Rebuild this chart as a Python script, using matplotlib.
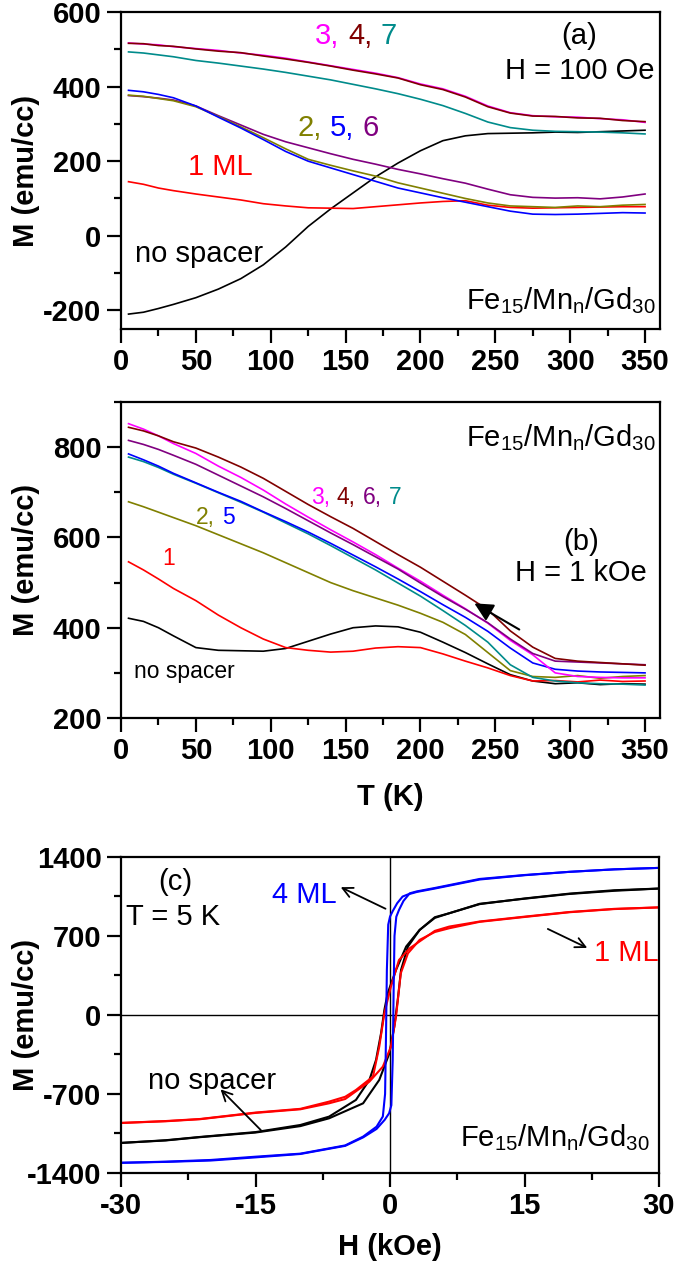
import matplotlib
matplotlib.use('Agg')
import matplotlib.pyplot as plt
from matplotlib.ticker import MultipleLocator
from matplotlib.offsetbox import TextArea, HPacker, AnnotationBbox

plt.rcParams['font.family'] = ['Liberation Sans', 'DejaVu Sans']
plt.rcParams['mathtext.fontset'] = 'custom'
plt.rcParams['mathtext.rm'] = 'Liberation Sans'
plt.rcParams['mathtext.it'] = 'Liberation Sans:italic'
plt.rcParams['axes.unicode_minus'] = False

# ---------------- data ----------------
T = [5, 15, 25, 35, 50, 65, 80, 95, 110, 125, 140, 155, 170, 185, 200,
     215, 230, 245, 260, 275, 290, 305, 320, 335, 350]

# panel (a): H = 100 Oe
a_nospacer = [-210, -205, -195, -184, -166, -143, -115, -78, -30, 25, 72, 115, 158, 195, 228,
              255, 268, 274, 275, 276, 278, 277, 279, 281, 283]
a_1 = [145, 138, 128, 121, 112, 104, 96, 86, 80, 75, 74, 73, 78, 83, 88,
       92, 94, 82, 76, 74, 75, 76, 77, 78, 78]
a_2 = [377, 374, 368, 362, 346, 320, 292, 263, 233, 205, 189, 174, 160, 142, 128,
       114, 100, 88, 80, 78, 76, 80, 78, 82, 84]
a_5 = [390, 386, 379, 370, 348, 318, 289, 258, 226, 200, 182, 164, 146, 128, 115,
       102, 90, 78, 66, 58, 57, 58, 60, 62, 61]
a_6 = [376, 373, 369, 364, 348, 322, 297, 272, 252, 236, 220, 205, 192, 178, 166,
       153, 141, 125, 110, 103, 101, 102, 99, 104, 112]
a_3 = [517, 514, 512, 507, 502, 497, 490, 484, 476, 466, 456, 446, 436, 424, 407,
       394, 374, 348, 330, 322, 319, 318, 314, 311, 304]
a_4 = [516, 515, 510, 508, 501, 495, 491, 482, 474, 465, 455, 444, 434, 423, 405,
       392, 372, 346, 329, 321, 320, 316, 315, 309, 306]
a_7 = [493, 490, 485, 480, 470, 463, 455, 447, 438, 428, 418, 406, 394, 381, 366,
       349, 328, 305, 290, 283, 280, 279, 278, 276, 273]

# panel (b): H = 1 kOe
b_nospacer = [421, 414, 400, 382, 356, 350, 349, 348, 354, 370, 386, 400, 404, 402, 390,
              368, 345, 320, 296, 282, 276, 278, 274, 276, 275]
b_1 = [546, 528, 508, 487, 460, 428, 400, 375, 356, 350, 346, 348, 355, 358, 356,
       342, 326, 311, 294, 282, 283, 280, 284, 281, 282]
b_2 = [679, 668, 656, 644, 626, 606, 586, 566, 544, 522, 500, 482, 466, 450, 432,
       412, 385, 345, 305, 292, 290, 294, 288, 292, 294]
b_5 = [785, 772, 758, 742, 721, 700, 680, 657, 635, 612, 587, 561, 535, 508, 480,
       451, 423, 392, 355, 322, 308, 304, 302, 301, 300]
b_6 = [815, 806, 795, 782, 762, 738, 714, 690, 664, 637, 610, 584, 557, 530, 499,
       469, 441, 411, 375, 343, 326, 324, 322, 320, 318]
b_3 = [852, 840, 825, 808, 786, 758, 733, 705, 674, 645, 617, 590, 562, 532, 503,
       472, 442, 410, 372, 340, 300, 292, 290, 289, 289]
b_4 = [844, 836, 825, 812, 798, 778, 756, 731, 702, 673, 646, 620, 591, 562, 534,
       503, 472, 440, 393, 357, 332, 326, 323, 320, 317]
b_7 = [778, 768, 755, 740, 720, 699, 678, 656, 632, 608, 582, 555, 528, 499, 470,
       438, 405, 368, 318, 290, 282, 278, 276, 275, 273]

# panel (c): hysteresis loops at T = 5 K (descending and ascending branches)
H_4ml_down = [30, 25, 20, 15, 10, 5, 3, 2, 1.4, 0.8, 0.3, 0, -0.2, -0.35, -0.45, -0.55,
              -0.8, -1.5, -3, -5, -10, -15, -20, -25, -30]
M_4ml_down = [1303, 1290, 1268, 1238, 1200, 1120, 1090, 1068, 1049, 990, 920, 871, 800, 400,
              -200, -700, -900, -990, -1078, -1156, -1229, -1256, -1285, -1300, -1310]
H_4ml_up = [-30, -25, -20, -15, -10, -5, -3, -1.5, -0.6, -0.1, 0.15, 0.3, 0.4, 0.5, 0.7,
            1.0, 1.5, 2.2, 3, 5, 10, 15, 20, 25, 30]
M_4ml_up = [-1310, -1302, -1290, -1262, -1232, -1160, -1085, -1010, -930, -871, -800, -400,
            200, 700, 870, 930, 1010, 1078, 1095, 1125, 1205, 1240, 1268, 1290, 1303]

H_ns_down = [30, 25, 20, 15, 10, 6.6, 5, 3.3, 1.8, 0.67, -0.26, -0.63, -1.0, -1.56, -2.3,
             -3.8, -6.8, -10, -15, -21.2, -25, -30]
M_ns_down = [1120, 1105, 1075, 1032, 982, 901, 866, 753, 606, 399, 192, 44, -162, -399, -576,
             -753, -901, -975, -1038, -1081, -1110, -1134]
H_ns_up = [-30, -25, -21.2, -15, -10, -6.8, -3.0, -1.2, -0.07, 0.48, 0.86, 1.23, 2.0, 3.3,
           5, 6.6, 10, 15, 20, 25, 30]
M_ns_up = [-1134, -1112, -1083, -1042, -985, -916, -783, -576, -340, -103, 133, 399, 606, 753,
           860, 901, 985, 1030, 1072, 1100, 1120]

H_1ml_down = [30, 25, 20, 15, 10, 6.6, 5, 2.2, 1.0, 0.1, -0.63, -1.2, -1.9, -3.8, -5, -6.8,
              -10, -15, -21.2, -25, -30]
M_1ml_down = [953, 940, 912, 871, 828, 783, 745, 591, 487, 251, 15, -281, -546, -665, -725,
              -768, -832, -865, -922, -940, -957]
H_1ml_up = [-30, -25, -21.2, -15, -10, -6.8, -5, -2.3, -0.8, 0.1, 0.67, 1.2, 2.0, 3.3, 5,
            6.6, 10, 15, 20, 25, 30]
M_1ml_up = [-957, -942, -924, -868, -836, -783, -745, -591, -458, -281, -15, 369, 546, 665,
            735, 768, 825, 868, 910, 938, 953]

colors = {
    'nospacer': 'black',
    '1': '#FF0000',
    '2': '#808000',
    '3': '#FF00FF',
    '4': '#800000',
    '5': '#0000FF',
    '6': '#800080',
    '7': '#008B8B',
}

FS = 21
stack = r'Fe$_{15}$/Mn$_{\mathrm{n}}$/Gd$_{30}$'


def style_axes(ax):
    for sp in ax.spines.values():
        sp.set_linewidth(1.6)
    ax.tick_params(which='major', direction='out', length=10, width=1.6,
                   labelsize=FS, pad=4, top=False, right=False)
    ax.tick_params(which='minor', direction='out', length=5, width=1.6,
                   top=False, right=False)
    for lab in ax.get_xticklabels() + ax.get_yticklabels():
        lab.set_fontweight('bold')


def colored_label(ax, x, y, parts, fs, sep):
    # a row of differently coloured pieces, centred on (x, y) in data coords
    boxes = [TextArea(s, textprops=dict(color=colors[k], fontsize=fs)) for s, k in parts]
    row = HPacker(children=boxes, align='baseline', pad=0, sep=sep)
    ab = AnnotationBbox(row, (x, y), xycoords='data', frameon=False,
                        box_alignment=(0.5, 0.5), pad=0)
    ax.add_artist(ab)


fig = plt.figure(figsize=(6.75, 12.63), dpi=100)
ax_a = fig.add_axes([0.1793, 0.7395, 0.7985, 0.2510])
ax_b = fig.add_axes([0.1793, 0.4315, 0.7985, 0.2502])
ax_c = fig.add_axes([0.1793, 0.0713, 0.7970, 0.2502])

# ---------------- panel (a) ----------------
lw = 1.2
for key, vals in [('nospacer', a_nospacer), ('1', a_1), ('6', a_6), ('2', a_2), ('5', a_5),
                  ('7', a_7), ('3', a_3), ('4', a_4)]:
    ax_a.plot(T, vals, color=colors[key], lw=lw)
ax_a.set_xlim(0, 360)
ax_a.set_ylim(-250, 600)
ax_a.xaxis.set_major_locator(MultipleLocator(50))
ax_a.xaxis.set_minor_locator(MultipleLocator(25))
ax_a.yaxis.set_major_locator(MultipleLocator(200))
ax_a.yaxis.set_minor_locator(MultipleLocator(100))
style_axes(ax_a)
ax_a.set_ylabel('M (emu/cc)', fontsize=FS, fontweight='bold')
ax_a.yaxis.set_label_coords(-0.15, 0.5)

colored_label(ax_a, 157, 535, [('3,', '3'), ('4,', '4'), ('7', '7')], FS, 6)
colored_label(ax_a, 145, 288, [('2,', '2'), ('5,', '5'), ('6', '6')], FS, 6)
ax_a.text(306, 535, '(a)', fontsize=FS, ha='center', va='center')
ax_a.text(356, 441, 'H = 100 Oe', fontsize=FS, ha='right', va='center')
ax_a.text(66, 185, '1 ML', color=colors['1'], fontsize=FS, ha='center', va='center')
ax_a.text(52, -48, 'no spacer', fontsize=FS, ha='center', va='center')
ax_a.text(357, -175, stack, fontsize=FS, ha='right', va='center')

# ---------------- panel (b) ----------------
for key, vals in [('nospacer', b_nospacer), ('1', b_1), ('2', b_2), ('7', b_7), ('5', b_5),
                  ('3', b_3), ('6', b_6), ('4', b_4)]:
    ax_b.plot(T, vals, color=colors[key], lw=lw)
ax_b.set_xlim(0, 360)
ax_b.set_ylim(200, 900)
ax_b.xaxis.set_major_locator(MultipleLocator(50))
ax_b.xaxis.set_minor_locator(MultipleLocator(25))
ax_b.yaxis.set_major_locator(MultipleLocator(200))
ax_b.yaxis.set_minor_locator(MultipleLocator(100))
style_axes(ax_b)
ax_b.set_ylabel('M (emu/cc)', fontsize=FS, fontweight='bold')
ax_b.yaxis.set_label_coords(-0.15, 0.5)
ax_b.set_xlabel('T (K)', fontsize=FS, fontweight='bold')
ax_b.xaxis.set_label_coords(0.5, -0.205)

fs_b = 16.5
colored_label(ax_b, 157, 688, [('3,', '3'), ('4,', '4'), ('6,', '6'), ('7', '7')], fs_b, 5)
colored_label(ax_b, 63, 644, [('2,', '2'), ('5', '5')], fs_b, 5)
ax_b.text(32, 554, '1', color=colors['1'], fontsize=fs_b, ha='center', va='center')
ax_b.text(42, 304, 'no spacer', fontsize=fs_b, ha='center', va='center')
ax_b.text(307, 589, '(b)', fontsize=FS, ha='center', va='center')
ax_b.text(307, 521, 'H = 1 kOe', fontsize=FS, ha='center', va='center')
ax_b.text(357, 822, stack, fontsize=FS, ha='right', va='center')
ax_b.annotate('', xy=(236, 454), xytext=(266, 396),
              arrowprops=dict(arrowstyle='-|>', color='black', lw=1.5,
                              mutation_scale=28, shrinkA=0, shrinkB=0))

# ---------------- panel (c) ----------------
lw_c = 1.5
ax_c.axhline(0, color='black', lw=1.0, zorder=1)
ax_c.axvline(0, color='black', lw=1.0, zorder=1)
ax_c.plot(H_ns_down, M_ns_down, color='black', lw=lw_c)
ax_c.plot(H_ns_up, M_ns_up, color='black', lw=lw_c)
ax_c.plot(H_1ml_down, M_1ml_down, color='#FF0000', lw=lw_c)
ax_c.plot(H_1ml_up, M_1ml_up, color='#FF0000', lw=lw_c)
ax_c.plot(H_4ml_down, M_4ml_down, color='#0000FF', lw=lw_c)
ax_c.plot(H_4ml_up, M_4ml_up, color='#0000FF', lw=lw_c)
ax_c.set_xlim(-30, 30)
ax_c.set_ylim(-1400, 1400)
ax_c.xaxis.set_major_locator(MultipleLocator(15))
ax_c.xaxis.set_minor_locator(MultipleLocator(7.5))
ax_c.yaxis.set_major_locator(MultipleLocator(700))
ax_c.yaxis.set_minor_locator(MultipleLocator(350))
style_axes(ax_c)
ax_c.set_ylabel('M (emu/cc)', fontsize=FS, fontweight='bold')
ax_c.yaxis.set_label_coords(-0.15, 0.5)
ax_c.set_xlabel('H (kOe)', fontsize=FS, fontweight='bold')
ax_c.xaxis.set_label_coords(0.5, -0.19)

ax_c.text(-23.9, 1179, '(c)', fontsize=FS, ha='center', va='center')
ax_c.text(-29.4, 871, 'T = 5 K', fontsize=FS, ha='left', va='center')
ax_c.text(-9.6, 1062, '4 ML', color='#0000FF', fontsize=FS, ha='center', va='center')
ax_c.text(30, 553, '1 ML', color='#FF0000', fontsize=FS, ha='right', va='center')
ax_c.text(-19.8, -585, 'no spacer', fontsize=FS, ha='center', va='center')
ax_c.text(29, -1090, stack, fontsize=FS, ha='right', va='center')
arrow_kw = dict(arrowstyle='->', color='black', lw=1.3, mutation_scale=18,
                shrinkA=0, shrinkB=0)
ax_c.annotate('', xy=(-5.5, 1132), xytext=(-0.5, 941), arrowprops=arrow_kw)
ax_c.annotate('', xy=(22, 594), xytext=(17.6, 762), arrowprops=arrow_kw)
ax_c.annotate('', xy=(-18.9, -659), xytext=(-14.4, -1021), arrowprops=arrow_kw)

fig.savefig('out.png', dpi=100, facecolor='white')
